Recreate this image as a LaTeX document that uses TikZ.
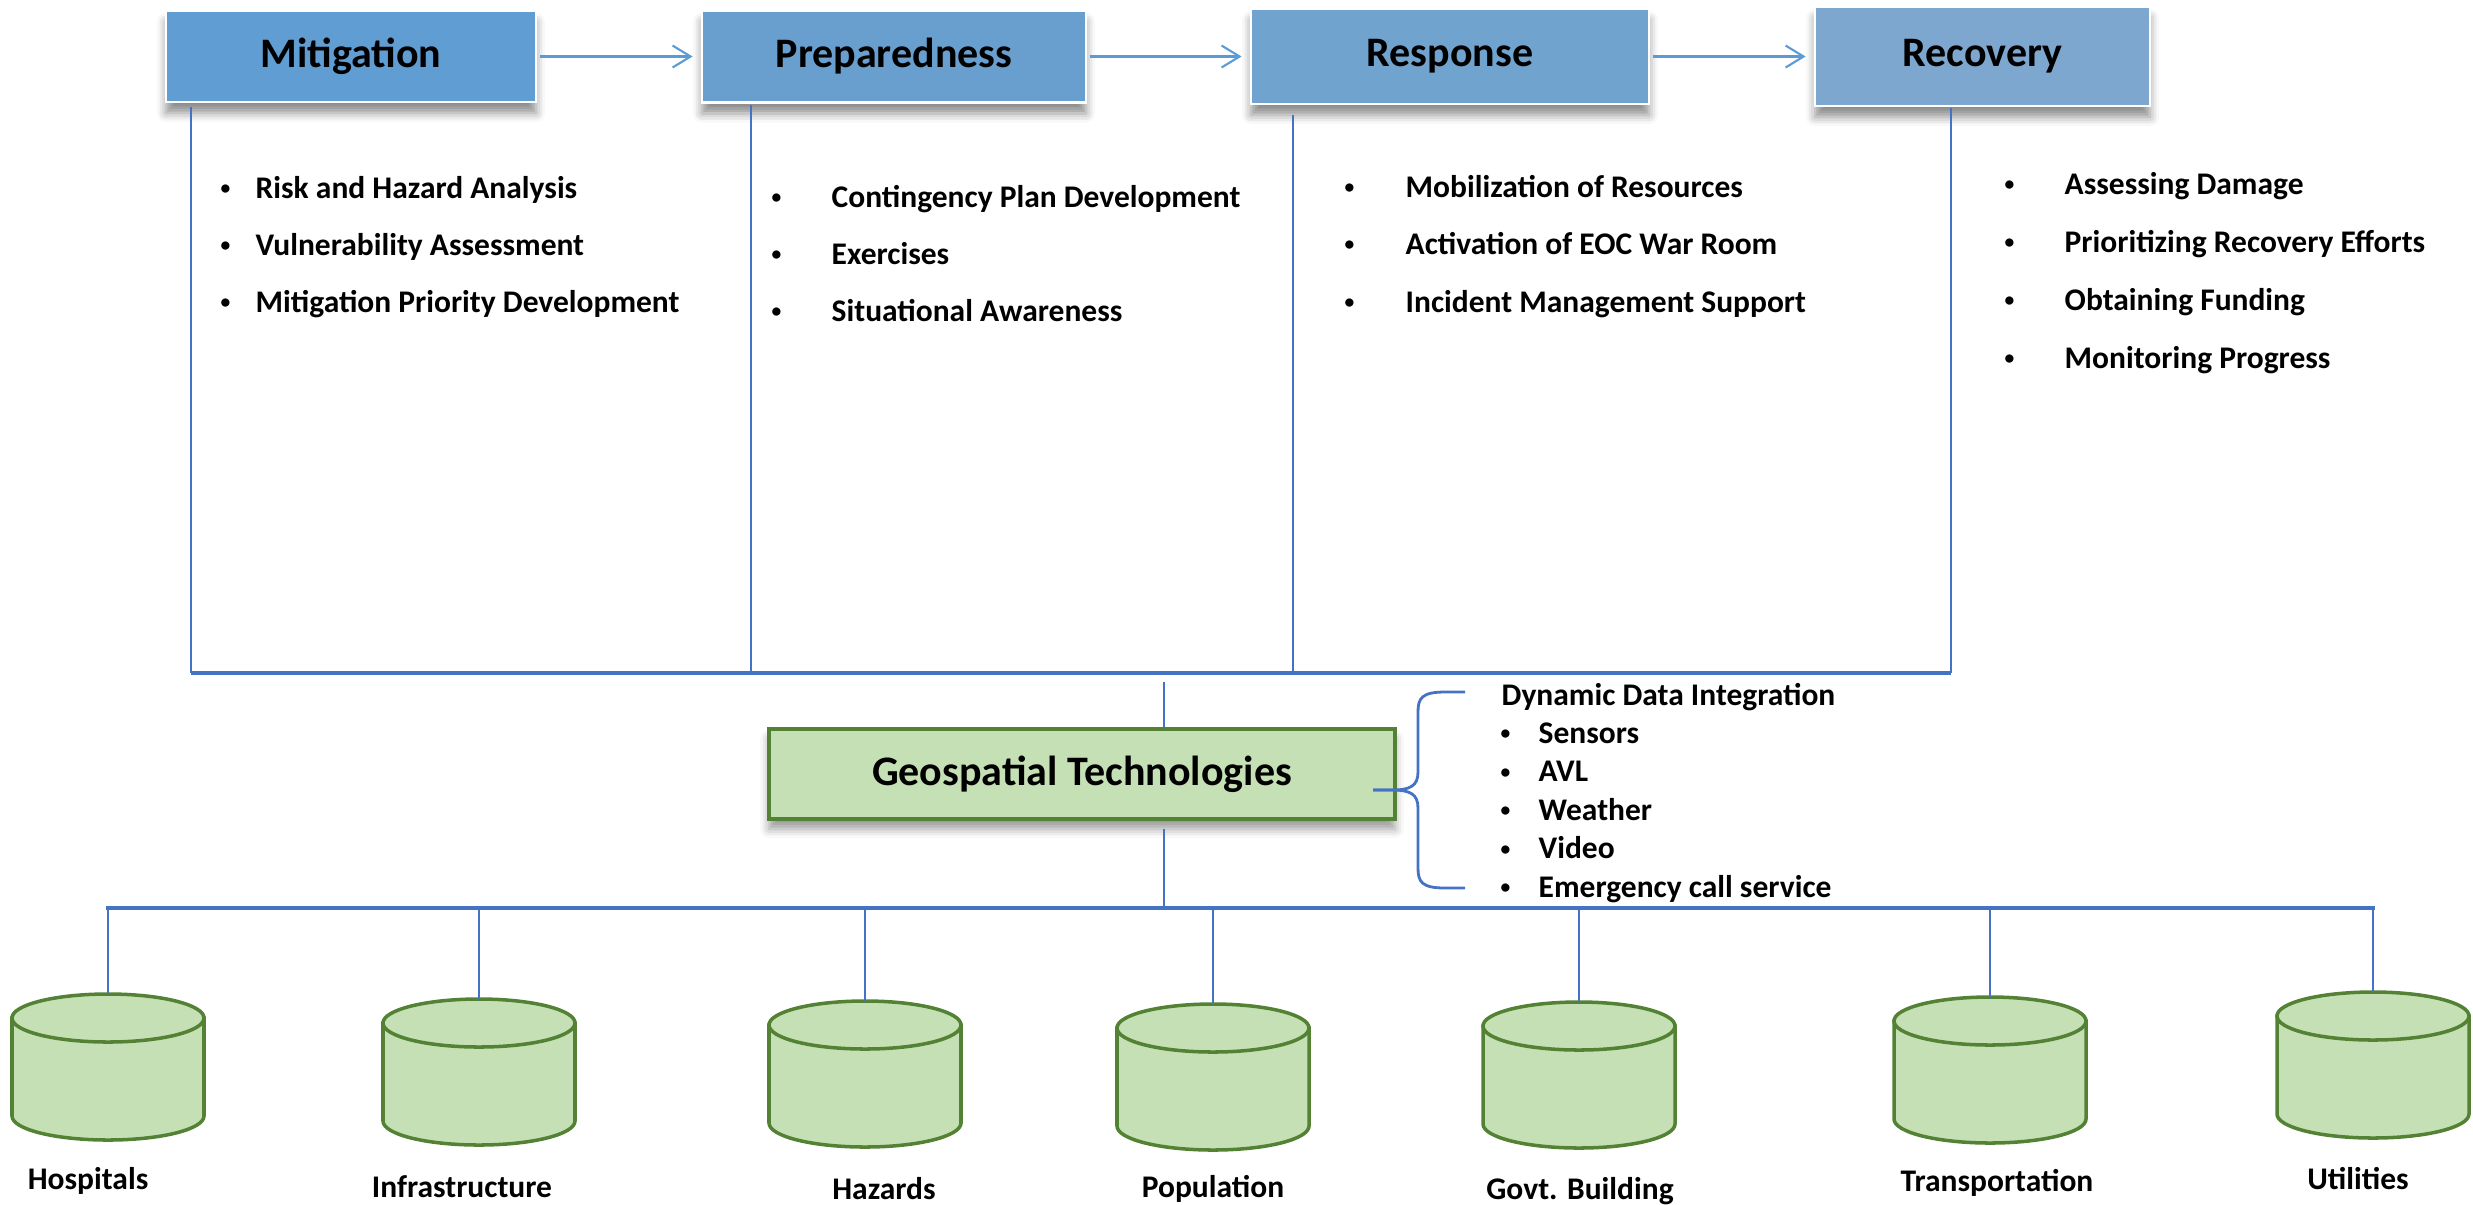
\documentclass[tikz,border=0pt]{standalone}
\usepackage{fontspec}
\setmainfont{Carlito}
\usetikzlibrary{arrows.meta,shadows.blur}

\definecolor{phaseA}{RGB}{95,157,211}
\definecolor{phaseB}{RGB}{104,159,206}
\definecolor{phaseC}{RGB}{112,163,206}
\definecolor{phaseD}{RGB}{125,167,206}
\definecolor{linkblue}{RGB}{68,114,196}
\definecolor{arrowblue}{RGB}{91,155,213}
\definecolor{geofill}{RGB}{197,224,180}
\definecolor{geoline}{RGB}{84,130,53}

% small bullet with a fixed gap before the text
\newcommand{\itm}[2]{\makebox[#1][l]{\raisebox{0.1em}{\scalebox{0.62}{\textbullet}}}#2}

\tikzset{
  phase/.style={fill=#1, draw=white, line width=0.8pt, inner sep=0pt,
    font=\fontsize{11.95}{14}\selectfont\bfseries,
    blur shadow={shadow xshift=0mm, shadow yshift=-1.1mm, shadow blur radius=0.9mm, shadow opacity=45}},
  geo/.style={fill=geofill, draw=geoline, line width=0.9pt, inner sep=0pt,
    font=\fontsize{11.95}{14}\selectfont\bfseries,
    blur shadow={shadow xshift=0mm, shadow yshift=-1mm, shadow blur radius=0.9mm, shadow opacity=40}},
  item/.style={anchor=base west, inner sep=0pt, font=\fontsize{8.96}{10.8}\selectfont\bfseries},
  dblabel/.style={anchor=base, inner sep=0pt, font=\fontsize{8.96}{10.8}\selectfont\bfseries},
  flow/.style={draw=arrowblue, line width=0.6pt, -{Straight Barb[length=1.8mm, width=2.2mm]},
    shorten <=0.3mm, shorten >=0.8mm},
  link/.style={draw=linkblue, line width=0.6pt},
  bus/.style={draw=linkblue, line width=0.9pt},
  brace/.style={draw=linkblue, line width=0.8pt},
  cyl/.style={fill=geofill, draw=geoline, line width=1pt},
  pics/store/.style={code={
    \coordinate (-top) at (0,0);
    \filldraw[cyl] (-96,24) -- (-96,122) arc[start angle=180, end angle=0, x radius=96, y radius=24] -- (96,24) -- cycle;
    \filldraw[cyl] (0,24) ellipse[x radius=96, y radius=24];
  }}
}

\begin{document}
\begin{tikzpicture}[x=0.1mm, y=-0.1mm]
	\useasboundingbox (0,0) rectangle (2473,1204);

	% phases
	\node[phase=phaseA, minimum width=37mm, minimum height=9.1mm] (mit) at (351,56.5) {Mitigation};
	\node[phase=phaseB, minimum width=38.4mm, minimum height=9.2mm] (prep) at (894,56.5) {Preparedness};
	\node[phase=phaseC, minimum width=39.8mm, minimum height=9.5mm] (resp) at (1450,56.5) {Response};
	\node[phase=phaseD, minimum width=33.5mm, minimum height=9.9mm] (rec) at (1982.5,56.5) {Recovery};

	\draw[flow] (mit) -- (prep);
	\draw[flow] (prep) -- (resp);
	\draw[flow] (resp) -- (rec);

	% activities
	\node[item] (mit1) at (220,198) {\itm{3.5mm}{Risk and Hazard Analysis}};
	\node[item] (mit2) at (220,255) {\itm{3.5mm}{Vulnerability Assessment}};
	\node[item] (mit3) at (220,312) {\itm{3.5mm}{Mitigation Priority Development}};

	\node[item] (prep1) at (771,207) {\itm{6mm}{Contingency Plan Development}};
	\node[item] (prep2) at (771,264) {\itm{6mm}{Exercises}};
	\node[item] (prep3) at (771,321) {\itm{6mm}{Situational Awareness}};

	\node[item] (resp1) at (1344,197) {\itm{6.1mm}{Mobilization of Resources}};
	\node[item] (resp2) at (1344,254) {\itm{6.1mm}{Activation of EOC War Room}};
	\node[item] (resp3) at (1344,312) {\itm{6.1mm}{Incident Management Support}};

	\node[item] (rec1) at (2004,194) {\itm{6mm}{Assessing Damage}};
	\node[item] (rec2) at (2004,252) {\itm{6mm}{Prioritizing Recovery Efforts}};
	\node[item] (rec3) at (2004,310) {\itm{6mm}{Obtaining Funding}};
	\node[item] (rec4) at (2004,368) {\itm{6mm}{Monitoring Progress}};

	% drops to the collector
	\coordinate (mitdrop) at (191,107);
	\coordinate (mitjoin) at (191,673);
	\coordinate (prepdrop) at (751,105);
	\coordinate (prepjoin) at (751,673);
	\coordinate (respdrop) at (1293,115);
	\coordinate (respjoin) at (1293,673);
	\coordinate (recdrop) at (1951,108);
	\coordinate (recjoin) at (1951,673);
	\draw[link] (mitdrop) -- (mitjoin);
	\draw[link] (prepdrop) -- (prepjoin);
	\draw[link] (respdrop) -- (respjoin);
	\draw[link] (recdrop) -- (recjoin);
	\draw[bus] (mitjoin) -- (recjoin);

	% geospatial core
	\node[geo, minimum width=62.6mm, minimum height=9mm] (geo) at (1082,774) {Geospatial Technologies};
	\coordinate (geoup) at (1164,682);
	\draw[link] (geoup) -- (geo.north -| geoup);
	\coordinate (geodown) at (1164,829);
	\coordinate (geobus) at (1164,908);
	\draw[link] (geodown) -- (geobus);

	\draw[brace] (1465,692) -- (1445,692) .. controls (1422,692) and (1418,698) .. (1418,712) -- (1418,772)
		.. controls (1418,786) and (1410,790) .. (1392,790) -- (1373,790);
	\draw[brace] (1373,790) -- (1392,790) .. controls (1410,790) and (1418,794) .. (1418,808) -- (1418,868)
		.. controls (1418,882) and (1422,888) .. (1445,888) -- (1465,888);

	\node[item] (dyn) at (1501,705) {Dynamic Data Integration};
	\node[item] (dyn1) at (1500,743) {\itm{3.8mm}{Sensors}};
	\node[item] (dyn2) at (1500,781.5) {\itm{3.8mm}{AVL}};
	\node[item] (dyn3) at (1500,820) {\itm{3.8mm}{Weather}};
	\node[item] (dyn4) at (1500,858.5) {\itm{3.8mm}{Video}};
	\node[item] (dyn5) at (1500,897) {\itm{3.8mm}{Emergency call service}};

	% data stores
	\coordinate (busL) at (106,908);
	\coordinate (busR) at (2375,908);
	\draw[bus] (busL) -- (busR);

	\pic (hosp) at (108,994) {store};
	\pic (infra) at (479,999) {store};
	\pic (haz) at (865,1001) {store};
	\pic (pop) at (1213,1004) {store};
	\pic (govt) at (1579,1002) {store};
	\pic (trans) at (1990,997) {store};
	\pic (util) at (2373,992) {store};

	\draw[link] (hosp-top |- busL) -- (hosp-top);
	\draw[link] (infra-top |- busL) -- (infra-top);
	\draw[link] (haz-top |- busL) -- (haz-top);
	\draw[link] (pop-top |- busL) -- (pop-top);
	\draw[link] (govt-top |- busL) -- (govt-top);
	\draw[link] (trans-top |- busL) -- (trans-top);
	\draw[link] (util-top |- busL) -- (util-top);

	\node[dblabel] (hosplbl) at (88,1189) {Hospitals};
	\node[dblabel] (infralbl) at (462,1197) {Infrastructure};
	\node[dblabel] (hazlbl) at (884,1199) {Hazards};
	\node[dblabel] (poplbl) at (1213,1197) {Population};
	\node[dblabel] (govtlbl) at (1580,1199) {Govt. Building};
	\node[dblabel] (translbl) at (1997,1191) {Transportation};
	\node[dblabel] (utillbl) at (2358,1189) {Utilities};

\end{tikzpicture}
\end{document}
